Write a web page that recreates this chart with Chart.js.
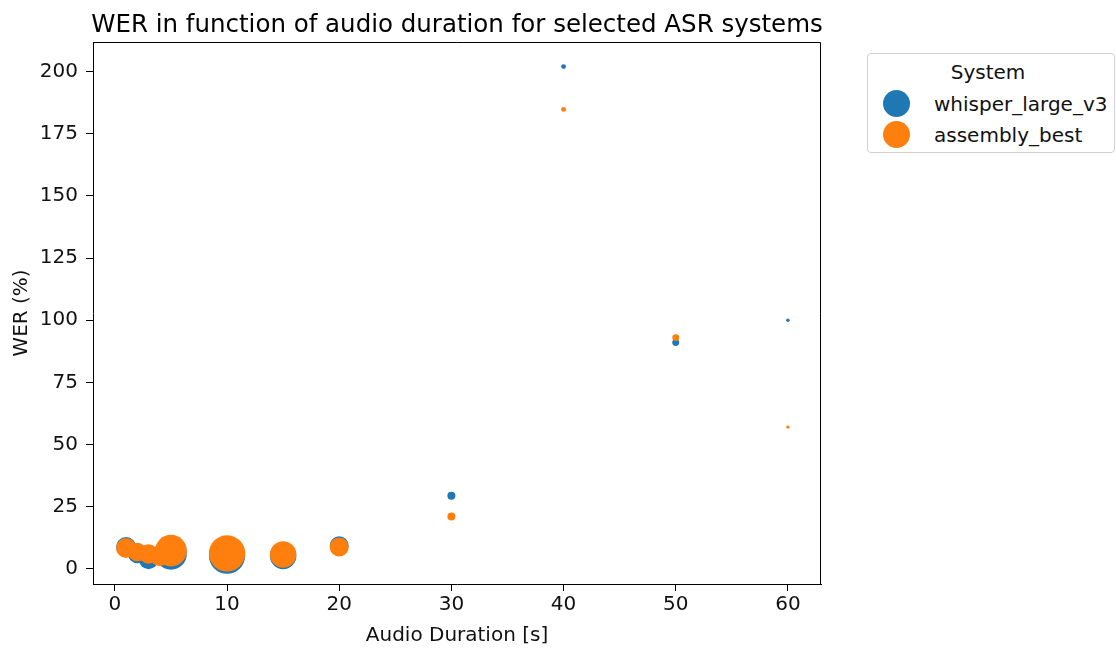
<!DOCTYPE html>
<html>
<head>
<meta charset="utf-8">
<script src="https://cdn.jsdelivr.net/npm/chart.js@4"></script>
<style>
  body { margin: 0; background: #fff; }
  #wrap { position: relative; width: 1116px; height: 650px; overflow: hidden; }
  #legend {
    position: absolute; left: 867px; top: 53px; width: 248px; height: 100px;
    border: 1px solid #d0d0d0; border-radius: 4px; box-sizing: border-box;
    font-family: "DejaVu Sans", sans-serif; font-size: 20px; color: #111; background: #fff;
  }
  #legend .ttl { text-align: center; margin-top: 4px; height: 30px; line-height: 28px; padding-right: 6px; }
  #legend .row { display: flex; align-items: center; height: 31px; }
  #legend .dot { width: 27px; height: 27px; border-radius: 50%; margin-left: 15px; }
  #legend .lbl { margin-left: 24px; }
</style>
</head>
<body>
<div id="wrap">
  <canvas id="chart" width="1116" height="650"></canvas>
  <div id="legend"></div>
</div>
<script>
// audio duration buckets (s)
const durations = [1, 2, 3, 4, 5, 10, 15, 20, 30, 40, 50, 60];
// WER (%) per bucket
const whisperWer = [8.8, 6.0, 3.8, 5.5, 6.0, 5.3, 5.2, 9.3, 29.4, 202.0, 91.0, 100.0];
const assemblyWer = [8.4, 6.8, 6.0, 5.0, 7.3, 6.2, 5.8, 8.8, 21.0, 184.8, 93.0, 57.0];
// number of recordings per bucket (marker area)
const sampleCount = [100, 85, 95, 95, 250, 330, 175, 90, 16, 6, 12, 3];
const xTicks = [0, 10, 20, 30, 40, 50, 60];
const yTicks = [0, 25, 50, 75, 100, 125, 150, 175, 200];

const systems = ['whisper_large_v3', 'assembly_best'];
const colors = ['#1f77b4', '#ff7f0e'];
const chartTitle = 'WER in function of audio duration for selected ASR systems';

function bubbles(wer) {
    return durations.map((d, i) => ({ x: d, y: wer[i], r: Math.sqrt(sampleCount[i]) }));
}

const font = 'DejaVu Sans';

// top/right spines + title centred over the axes
const framePlugin = {
    id: 'frame',
    afterDraw(chart) {
        const a = chart.chartArea;
        const ctx = chart.ctx;
        ctx.save();
        ctx.strokeStyle = '#000';
        ctx.lineWidth = 1;
        ctx.beginPath();
        ctx.moveTo(a.left, a.top + 0.5);
        ctx.lineTo(a.right - 0.5, a.top + 0.5);
        ctx.lineTo(a.right - 0.5, a.bottom);
        ctx.stroke();
        ctx.fillStyle = '#000';
        ctx.font = '24.5px "' + font + '"';
        ctx.textAlign = 'center';
        ctx.textBaseline = 'alphabetic';
        ctx.fillText(chartTitle, (a.left + a.right) / 2, a.top - 10);
        ctx.restore();
    }
};

const chart = new Chart(document.getElementById('chart'), {
    type: 'bubble',
    data: {
        datasets: [{
            label: systems[0],
            data: bubbles(whisperWer),
            backgroundColor: colors[0],
            borderWidth: 0,
            order: 2
        },
        {
            label: systems[1],
            data: bubbles(assemblyWer),
            backgroundColor: colors[1],
            borderWidth: 0,
            order: 1
        }]
    },
    options: {
        responsive: false,
        animation: false,
        layout: {
            padding: { top: 42, right: 295, left: 0, bottom: 0 }
        },
        plugins: {
            legend: { display: false },
            tooltip: { enabled: false }
        },
        scales: {
            x: {
                type: 'linear',
                min: -1.95,
                max: 62.95,
                afterBuildTicks(s) { s.ticks = xTicks.map(v => ({ value: v })); },
                afterFit(s) { s.height = 66; },
                grid: { drawOnChartArea: false, drawTicks: true, tickLength: 7, tickColor: '#000' },
                border: { display: true, color: '#000' },
                ticks: { color: '#111', padding: 2, font: { family: font, size: 20 } },
                title: {
                    display: true,
                    text: 'Audio Duration [s]',
                    color: '#111',
                    font: { family: font, size: 20 },
                    padding: { top: 2, bottom: 2 }
                }
            },
            y: {
                type: 'linear',
                min: -6.1,
                max: 211.9,
                afterBuildTicks(s) { s.ticks = yTicks.map(v => ({ value: v })); },
                afterFit(s) { s.width = 93; },
                grid: { drawOnChartArea: false, drawTicks: true, tickLength: 7, tickColor: '#000' },
                border: { display: true, color: '#000' },
                ticks: { color: '#111', padding: 8, font: { family: font, size: 20 } },
                title: {
                    display: true,
                    text: 'WER (%)',
                    color: '#111',
                    font: { family: font, size: 20 },
                    padding: { top: 10, bottom: 4 }
                }
            }
        }
    },
    plugins: [framePlugin]
});

// legend box (title + entries from the datasets)
const legend = document.getElementById('legend');
legend.innerHTML = '<div class="ttl">System</div>' +
    chart.data.datasets.map(ds =>
        '<div class="row"><span class="dot" style="background:' + ds.backgroundColor + '"></span>' +
        '<span class="lbl">' + ds.label + '</span></div>'
    ).join('');
</script>
</body>
</html>
